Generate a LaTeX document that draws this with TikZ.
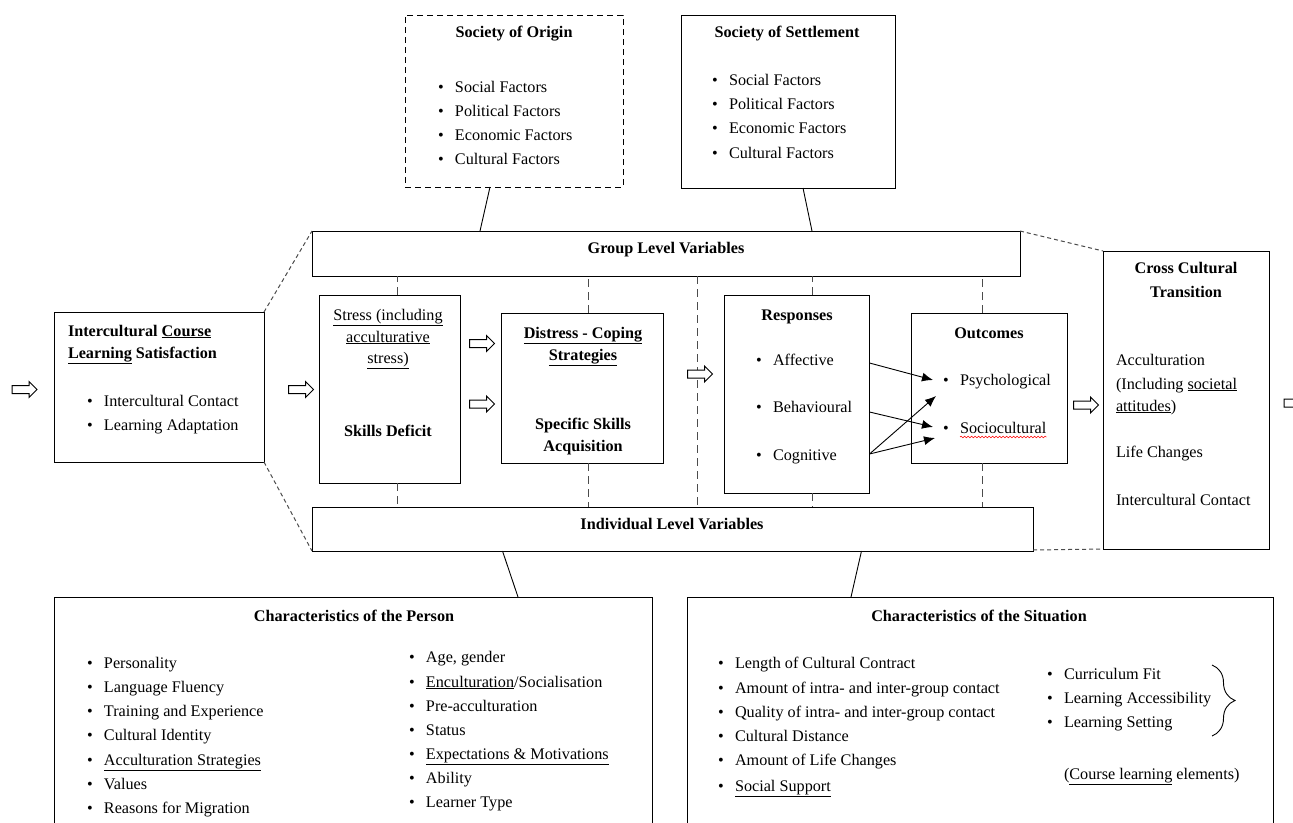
\documentclass[tikz,border=0pt]{standalone}
\usepackage{fontspec}
\setmainfont{Liberation Serif}
\usetikzlibrary{shapes.arrows,arrows.meta,decorations.pathreplacing,decorations.pathmorphing,calc}
\tikzset{
  box/.style={draw, line width=1pt, inner sep=0pt, outer sep=0pt},
  dbox/.style={box, dash pattern=on 6pt off 4pt},
  txt/.style={inner sep=0pt, outer sep=0pt, font=\fontsize{16.2pt}{24pt}\selectfont},
  btxt/.style={txt, font=\fontsize{16.2pt}{24pt}\selectfont\bfseries},
  link/.style={line width=0.9pt},
  ddash/.style={line width=1pt, draw=black!70, dash pattern=on 4pt off 3pt},
  vdash/.style={line width=0.9pt, draw=black!70, dash pattern=on 8pt off 5pt},
  harrow/.style={single arrow, draw, fill=white, line width=1pt, inner xsep=0pt, inner ysep=3.5pt,
    minimum height=25pt, single arrow head extend=4pt,
    single arrow tip angle=90},
  thin/.style={line width=0.9pt, -{Latex[length=11pt,width=9pt]}}
}
\newcommand\mybi[4]{\node[txt,anchor=base west] (#1) at ({#2-17},{#3+5}) {\makebox[17pt][l]{\textbullet}#4};}
\newcommand\mytl[4]{\node[txt,anchor=base west] (#1) at (#2,{#3+5}) {#4};}
\newcommand\mytc[4]{\node[txt,anchor=base] (#1) at (#2,{#3+5}) {#4};}
\newcommand\mybc[4]{\node[btxt,anchor=base] (#1) at (#2,{#3+5}) {#4};}
\begin{document}
\begin{tikzpicture}[x=1pt,y=-1pt]
\useasboundingbox (0,0) rectangle (1293,822);
\clip (0,0) rectangle (1293,822);
% boxes
\node[dbox, minimum width=218pt, minimum height=172pt] (origin) at (514,101) {};
\node[box, minimum width=214pt, minimum height=173pt] (settle) at (788,101.5) {};
\node[box, minimum width=708pt, minimum height=45pt] (group) at (666,253.5) {};
\node[box, minimum width=210pt, minimum height=150pt] (icls) at (159,387) {};
\node[box, minimum width=141pt, minimum height=188pt] (stress) at (389.5,389) {};
\node[box, minimum width=162pt, minimum height=150pt] (distress) at (582,388) {};
\node[box, minimum width=145pt, minimum height=198pt] (resp) at (797,394) {};
\node[box, minimum width=156pt, minimum height=150pt] (outc) at (989,388) {};
\node[box, minimum width=166pt, minimum height=298pt] (cct) at (1186,400) {};
\node[box, minimum width=721pt, minimum height=44pt] (indiv) at (672.5,529) {};
\node[box, minimum width=598pt, minimum height=243pt] (person) at (353,718.5) {};
\node[box, minimum width=586pt, minimum height=243pt] (situ) at (980,718.5) {};

% Society of Origin
\mybc{origin-t}{514}{32}{Society of Origin}
\mybi{o1}{455}{87}{Social Factors}
\mybi{o2}{455}{111}{Political Factors}
\mybi{o3}{455}{135}{Economic Factors}
\mybi{o4}{455}{159}{Cultural Factors}
% Society of Settlement
\mybc{settle-t}{787}{32}{Society of Settlement}
\mybi{s1}{729}{80}{Social Factors}
\mybi{s2}{729}{104}{Political Factors}
\mybi{s3}{729}{128}{Economic Factors}
\mybi{s4}{729}{153}{Cultural Factors}
% group / individual
\mybc{group-t}{666}{248}{Group Level Variables}
\mybc{indiv-t}{672}{524}{Individual Level Variables}
% ICLS
\node[btxt,anchor=base west] (icls-t1) at (68,336) {Intercultural \underline{Course}};
\node[btxt,anchor=base west] (icls-t2) at (68,358) {\underline{Learning} Satisfaction};
\mybi{i1}{104}{401}{Intercultural Contact}
\mybi{i2}{104}{425}{Learning Adaptation}
% Stress
\mytc{st1}{388}{315}{\underline{Stress (including}}
\mytc{st2}{388}{337}{\underline{acculturative}}
\mytc{st3}{388}{358}{\underline{stress)}}
\mybc{st4}{388}{431}{Skills Deficit}
% Distress
\mybc{d1}{583}{333}{\underline{Distress - Coping}}
\mybc{d2}{583}{355}{\underline{Strategies}}
\mybc{d3}{583}{424}{Specific Skills}
\mybc{d4}{583}{446}{Acquisition}
% Responses
\mybc{resp-t}{797}{315}{Responses}
\mybi{raff}{773}{360}{Affective}
\mybi{rbeh}{773}{407}{Behavioural}
\mybi{rcog}{773}{455}{Cognitive}
% Outcomes
\mybc{outc-t}{989}{333}{Outcomes}
\mybi{opsy}{960}{380}{Psychological}
\mybi{osoc}{960}{428}{Sociocultural}
\draw[red, line width=0.6pt, decorate, decoration={snake, segment length=3.5pt, amplitude=0.8pt}] ([yshift=-4pt]osoc.base west) ++(17pt,0) coordinate (wv1) -- ([yshift=-4pt]osoc.base east);
% CCT
\mybc{c1}{1186}{268}{Cross Cultural}
\mybc{c2}{1186}{292}{Transition}
\mytl{c3}{1116}{360}{Acculturation}
\mytl{c4}{1116}{384}{(Including \underline{societal}}
\mytl{c5}{1116}{406}{\underline{attitudes})}
\mytl{c6}{1116}{452}{Life Changes}
\mytl{c7}{1116}{500}{Intercultural Contact}
% Person
\mybc{person-t}{354}{616}{Characteristics of the Person}
\mybi{p1}{104}{663}{Personality}
\mybi{p2}{104}{687}{Language Fluency}
\mybi{p3}{104}{711}{Training and Experience}
\mybi{p4}{104}{735}{Cultural Identity}
\mybi{p5}{104}{760}{\underline{Acculturation Strategies}}
\mybi{p6}{104}{784}{Values}
\mybi{p7}{104}{808}{Reasons for Migration}
\mybi{q1}{426}{657}{Age, gender}
\mybi{q2}{426}{682}{\underline{Enculturation}/Socialisation}
\mybi{q3}{426}{706}{Pre-acculturation}
\mybi{q4}{426}{730}{Status}
\mybi{q5}{426}{754}{\underline{Expectations \& Motivations}}
\mybi{q6}{426}{778}{Ability}
\mybi{q7}{426}{802}{Learner Type}
% Situation
\mybc{situ-t}{979}{616}{Characteristics of the Situation}
\mybi{u1}{735}{663}{Length of Cultural Contract}
\mybi{u2}{735}{688}{Amount of intra- and inter-group contact}
\mybi{u3}{735}{712}{Quality of intra- and inter-group contact}
\mybi{u4}{735}{736}{Cultural Distance}
\mybi{u5}{735}{760}{Amount of Life Changes}
\mybi{u6}{735}{786}{\underline{Social Support}}
\mybi{v1}{1064}{674}{Curriculum Fit}
\mybi{v2}{1064}{698}{Learning Accessibility}
\mybi{v3}{1064}{722}{Learning Setting}
\mytl{v4}{1064}{774}{(\underline{Course learning} elements)}
\draw[line width=0.9pt, decorate, decoration={brace, amplitude=23pt}] (1212,665) coordinate (br1) -- (1212,736) coordinate (br2);

% solid connectors
\draw[link] ([xshift=-24pt]origin.south) -- ([xshift=-186pt]group.north);
\draw[link] ([xshift=15pt]settle.south) -- ([xshift=146pt]group.north);
\draw[link] ([xshift=-170pt]indiv.south) -- ([xshift=165pt]person.north);
\draw[link] ([xshift=189pt]indiv.south) -- ([xshift=-129pt]situ.north);

% dashed diagonals
\draw[ddash] (icls.north east) -- (group.north west);
\draw[ddash] (icls.south east) -- (indiv.south west);
\draw[ddash] (group.north east) -- (cct.north west);
\draw[ddash] ([yshift=1pt]indiv.south east) -- (cct.south west);

% dashed verticals
\draw[vdash] ([xshift=7.5pt]stress.north) -- ([xshift=7.5pt]stress.north |- group.south);
\draw[vdash] ([xshift=7.5pt]stress.south) -- ([xshift=7.5pt]stress.south |- indiv.north);
\draw[vdash] ([xshift=6pt]distress.north) -- ([xshift=6pt]distress.north |- group.south);
\draw[vdash] ([xshift=6pt]distress.south) -- ([xshift=6pt]distress.south |- indiv.north);
\draw[vdash] (group.south -| 697,0) coordinate (mid1) -- (indiv.north -| 697,0) coordinate (mid2);
\draw[vdash] ([xshift=15pt]resp.north) -- ([xshift=15pt]resp.north |- group.south);
\draw[vdash] ([xshift=15pt]resp.south) -- ([xshift=15pt]resp.south |- indiv.north);
\draw[vdash] ([xshift=-7pt]outc.north) -- ([xshift=-7pt]outc.north |- group.south);
\draw[vdash] ([xshift=-7pt]outc.south) -- ([xshift=-7pt]outc.south |- indiv.north);

% hollow arrows
\node[harrow] (a0) at (22.5,389.5) {};
\node[harrow] (a1) at (299,389.5) {};
\node[harrow] (a2) at (480,343.5) {};
\node[harrow] (a3) at (480,404) {};
\node[harrow] (a4) at (698,374) {};
\node[harrow] (a5) at (1084,405) {};
\node[harrow] (a6) at (1294.5,403) {};

% response -> outcome arrows
\coordinate (eA) at (933,380);
\coordinate (eB) at (933,427);
\coordinate (eC1) at (936,396);
\coordinate (eC2) at (935,438);
\draw[thin] (resp.east |- 0,363) -- (eA);
\draw[thin] (resp.east |- 0,412) -- (eB);
\draw[thin] (resp.east |- 0,454) -- (eC1);
\draw[thin] (resp.east |- 0,454) -- (eC2);
\end{tikzpicture}
\end{document}
